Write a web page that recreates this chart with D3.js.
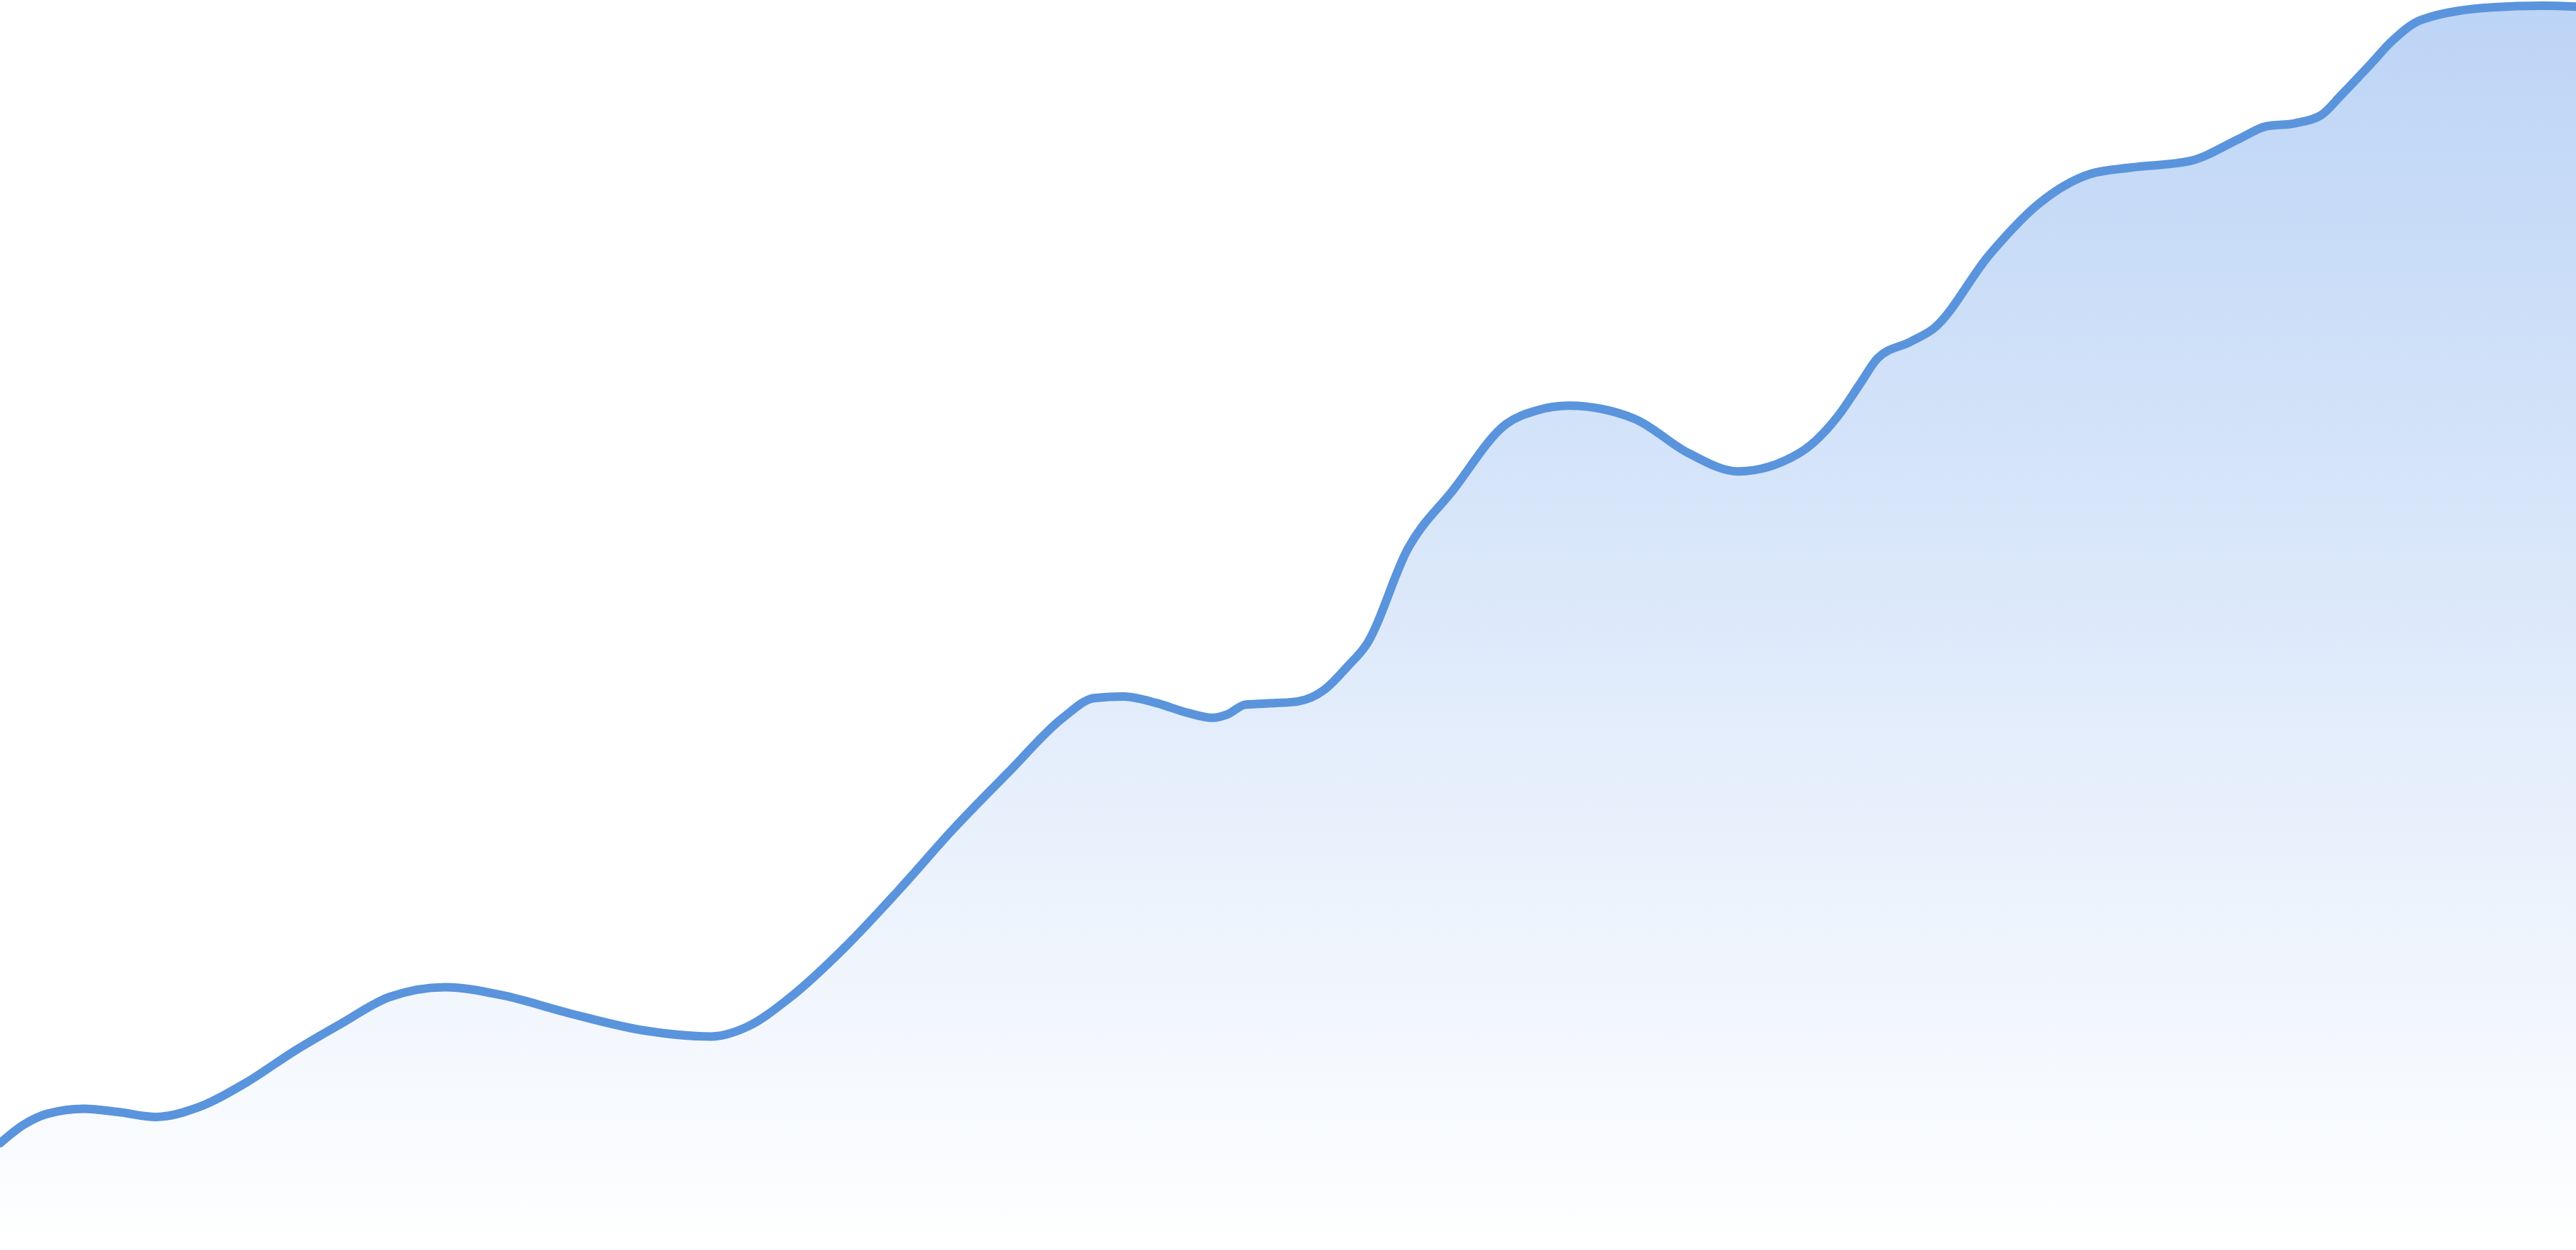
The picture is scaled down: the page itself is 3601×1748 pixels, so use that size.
<!DOCTYPE html>
<html>
<head>
<meta charset="utf-8">
<script src="https://cdn.jsdelivr.net/npm/d3@7"></script>
<style>
  html, body { margin: 0; padding: 0; background: #fff; overflow: hidden; }
  svg { display: block; }
</style>
</head>
<body>
<svg id="chart" width="3601" height="1748"></svg>
<script>
// positions along the x axis (chart units) and the value at each one
const positions = [
  0, 14, 29, 51, 72, 95, 121, 150, 179, 208, 237, 271, 306, 347, 390, 433,
  455, 480, 514, 547, 580, 614, 647, 666, 684, 704, 723, 738, 747, 758, 777,
  790, 806, 820, 832, 857, 884, 917, 935, 955, 995, 1028, 1058, 1095, 1119,
  1132, 1143, 1163, 1177, 1211, 1241, 1272, 1297, 1333, 1364, 1379, 1397,
  1413, 1425, 1443, 1456, 1474, 1517, 1547, 1568
];
const values = [
  65, 76, 83, 86, 84, 81, 87, 102, 121, 138, 154, 160, 155, 144, 134, 130,
  136, 153, 184, 219, 256, 291, 324, 336, 337, 333, 327, 324, 326, 332, 333,
  334, 341, 355, 369, 427, 462, 503, 511, 514, 506, 485, 474, 485, 508,
  527, 543, 553, 561, 606, 637, 655, 659, 663, 677, 684, 686,
  691, 703, 722, 736, 749, 756.5, 757.5, 757
];
const xDomain = [0, 1568];
const yDomain = [0, 761];

const data = positions.map((p, i) => ({ x: p, v: values[i] }));

const svg = d3.select("#chart");
const width = +svg.attr("width");
const height = +svg.attr("height");

const x = d3.scaleLinear().domain(xDomain).range([0, width]);
const y = d3.scaleLinear().domain(yDomain).range([height, 0]);

// fill gradient, light blue at top fading to white at the bottom
const defs = svg.append("defs");
const grad = defs
  .append("linearGradient")
  .attr("id", "areaFill")
  .attr("gradientUnits", "userSpaceOnUse")
  .attr("x1", 0).attr("y1", 0)
  .attr("x2", 0).attr("y2", height);
grad.append("stop").attr("offset", "0%").attr("stop-color", "#bcd4f6");
grad.append("stop").attr("offset", "100%").attr("stop-color", "#ffffff");

const area = d3
  .area()
  .x(d => x(d.x))
  .y0(height)
  .y1(d => y(d.v))
  .curve(d3.curveMonotoneX);

const line = d3
  .line()
  .x(d => x(d.x))
  .y(d => y(d.v))
  .curve(d3.curveMonotoneX);

svg
  .append("path")
  .datum(data)
  .attr("class", "area")
  .attr("fill", "url(#areaFill)")
  .attr("d", area);

svg
  .append("path")
  .datum(data)
  .attr("class", "line")
  .attr("fill", "none")
  .attr("stroke", "#5a94dc")
  .attr("stroke-width", 12)
  .attr("stroke-linejoin", "round")
  .attr("stroke-linecap", "round")
  .attr("d", line);
</script>
</body>
</html>
